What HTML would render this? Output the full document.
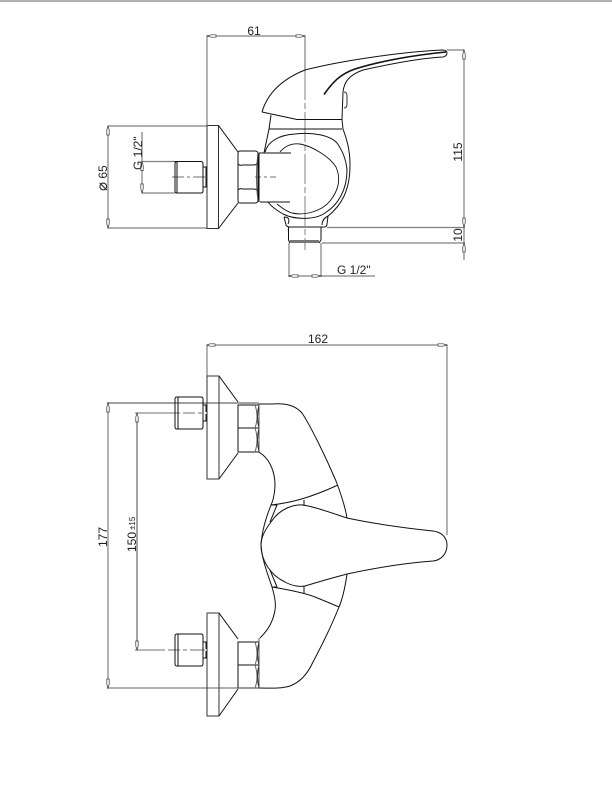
<!DOCTYPE html>
<html><head><meta charset="utf-8"><style>html,body{margin:0;padding:0;background:#fff}svg{display:block;filter:blur(.3px)}
text{font-family:"Liberation Sans","DejaVu Sans",sans-serif;font-size:12px;fill:#222}</style></head><body>
<svg width="612" height="800" viewBox="0 0 612 800" xmlns="http://www.w3.org/2000/svg">
<rect width="612" height="800" fill="#fff"/>
<line x1="0" y1="1" x2="612" y2="1" stroke="#808080" stroke-width="1.200"/>
<!-- gray dimension lines -->
<g fill="none" stroke="#808080" stroke-width="1.200">
<path d="M207 36V125M207 36H305M305 36V70"/>
<path d="M108 126H207M108 228H207M108 126V228"/>
<path d="M142 132V193M142 161.500H175M142 193H175"/>
<path d="M327 227.500H465M322 243H465M464 50V260M447 50H464"/>
<path d="M289 243V277M321 243V277M289 276H375"/>
<path d="M207 345V376M207 345H447M447 345V535"/>
<path d="M108 403V688M107 688H238"/>
</g>
<path d="M137 413V650" fill="none" stroke="#444" stroke-width="1"/>
<g fill="#fff" stroke="#333" stroke-width=".7">
<path d="M207 36l4-1.200h5v2.400h-5zM305 36l-4-1.200h-5v2.400h5zM447 345l-4-1.200h-5v2.400h5zM207 345l3-1.200h5v2.400h-5z"/>
<path d="M108 126l-1.200 4v5h2.400v-5zM108 228l-1.200-4v-5h2.400v5zM142 161.500l-1.200 4v5h2.400v-5zM142 193l-1.200-4v-5h2.400v5zM464 50l-1.200 4v5h2.400v-5zM464 227l-1.200-4v-5h2.400v5zM464 243l-1.200 4v5h2.400v-5z"/>
<path d="M289 276l4-1.200h5v2.400h-5zM321 276l-4-1.200h-5v2.400h5z"/>
<path d="M108 403l-1.200 4v5h2.400v-5zM108 688l-1.200-4v-5h2.400v5zM137 413l-1.200 4v5h2.400v-5zM137 650l-1.200-4v-5h2.400v5z"/>
</g>
<!-- center lines -->
<g fill="none" stroke="#444" stroke-width=".8">
<path d="M172 177H207" stroke-dasharray="12 3 3 3"/>
<path d="M255 177H277" stroke-dasharray="6 3 3 3"/>
<path d="M135 413H205" stroke-dasharray="45 3 12 3 4 3"/>
<path d="M135 650H205" stroke-dasharray="30 3 12 3 4 3"/>
<path d="M107 403H259" stroke-width=".9"/>
</g>
<path d="M305 70V250" fill="none" stroke="#808080" stroke-dasharray="30 3 6 3" stroke-width="1"/>
<!-- side view -->
<g fill="none" stroke="#111" stroke-width="1" stroke-linejoin="round">
<path d="M207 125.500H218.500V228.500H207Z" stroke="#333"/>
<path d="M218.500 125.500L238 152M218.500 228.500L238 203"/>
<path d="M240 151H255Q258 151 258 154V200Q258 203 255 203H240Q238 203 238 200V154Q238 151 240 151Z"/>
<path d="M238 164Q240 166 242 165H254Q256 165 258 163M238 190Q240 188 242 189H254Q256 189 258 191"/>
<path d="M258 152Q255 177 258 202" stroke="#555"/>
<path d="M175 161.500H201Q203 161.500 203 164V191Q203 193 201 193H177Q175 193 175 191V164Q175 161.500 177 161.500Z"/>
<path d="M177 162V193"/>
<path d="M203 167H207M203 187H207M206 167V187"/>
<path d="M259 153H291M260 202H290M259 153V202"/>
<!-- handle -->
<path d="M262 112C267 95 280 80 305 70C340 61 400 52 442 50Q447 50 447 53Q447 56 443 57C420 58 390 64 363 70C349 75 344 82 343 92L342 119.500"/>
<path d="M262 112L297 119.500H342"/>
<path d="M324 94.500C332 83 340 74 355 69C380 61 415 55 446 52" stroke-width="1.600"/>
<path d="M344 92Q347 92 347 96V104Q347 108 344 108" stroke="#333"/>
<!-- body -->
<path d="M271 115L269 129H342M342 119.500L343 129C347 140 350 150 350 165C350 190 342 205 327 217"/>
<path d="M269 129L264 153"/>
<path d="M265 152C268 142 278 135 295 134C312 132 330 135 337 143C342 150 346 158 347 170C347 190 338 205 325 213C315 220 295 220 283 214C276 210 271 206 268 202"/>
<path d="M280 152C285 146 292 143 300 144C312 146 330 157 336 167C341 178 339 190 330 201C322 211 305 216 292 213C285 211 281 207 277 204" stroke-width=".9"/>
<path d="M284 217L286 225Q287 227 290 227H324Q327 227 327 224L328 216"/>
<path d="M288 224Q291 217 284 217M322 225Q322 219 328 216"/>
<path d="M288.500 227V240L290 243M321 227V240L319 243"/>
<path d="M290 241.500H319" stroke="#777" stroke-width="3"/>
<!-- front view, upper fitting -->
<path d="M207 376H219V479H207Z" stroke="#333"/>
<path d="M219 376L238 402M219 479L238 453"/>
<path d="M238 405H259Q256 417 259 428Q256 440 259 452H238Z"/>
<path d="M238 428H259" />
<path d="M255 405Q259 417 255 428Q259 440 255 452" stroke="#666"/>
<path d="M259 404V452" stroke="#555"/>
<path d="M177 397H201Q203 397 203 399V427Q203 429 201 429H177Q175 429 175 427V399Q175 397 177 397Z"/>
<path d="M178 397V429"/>
<path d="M203 405H207M203 421H207M206 405V412M206 414V421"/>
<!-- front view, lower fitting -->
<path d="M207 613H219V716H207Z" stroke="#333"/>
<path d="M219 613L238 639M219 716L238 689"/>
<path d="M238 642H259Q256 654 259 665Q256 677 259 688H238Z"/>
<path d="M238 665H259"/>
<path d="M255 642Q259 654 255 665Q259 677 255 688" stroke="#666"/>
<path d="M259 638V688" stroke="#555"/>
<path d="M177 634H201Q203 634 203 636V664Q203 666 201 666H177Q175 666 175 664V636Q175 634 177 634Z"/>
<path d="M178 634V666"/>
<path d="M203 642H207M203 658H207M206 642V649M206 651V658"/>
<path d="M238 688H259" stroke="#777" stroke-width="1.500"/>
<!-- front body -->
<path d="M259 404H272C285 403 295 405 302 413C310 425 325 455 336 481C341 494 345 506 347 518"/>
<path d="M259 452L263 455C270 461 275 472 275 485C275 495 272 503 271 505C266 518 262 530 261 545C262 560 268 575 272 587C275 597 276 605 275 610C273 622 268 630 260 638"/>
<path d="M271 505L277 505L270 522M271 505C290 503 310 498 338 485M304 500V506"/>
<path d="M303 505C295 504 280 508 271 522C264 531 261 539 261 545C261 560 270 575 285 582C292 586 300 587 305 586C318 582 332 578 347 574C375 568 405 563 433 561C442 560 447 553 447 545C447 537 441 532 433 531C405 528 375 524 347 518C332 513 318 508 308 506Z"/>
<path d="M272 587H277L270 570M272 587C290 590 305 593 315 597C325 601 332 604 339 607M304 586V593"/>
<path d="M347 574C345 588 342 600 339 607C333 622 322 645 313 662C307 675 300 682 290 686C280 689 270 688 259 688"/>
</g>
<!-- labels -->
<text x="254" y="35" text-anchor="middle">61</text>
<text x="318" y="343" text-anchor="middle">162</text>
<text x="337" y="274">G 1/2"</text>
<text transform="translate(462 152) rotate(-90)" text-anchor="middle">115</text>
<text transform="translate(462 235) rotate(-90)" text-anchor="middle">10</text>
<text transform="translate(142 170) rotate(-90)">G 1/2"</text>
<text transform="translate(107 191) rotate(-90)"><tspan style="font-size:15px">⌀</tspan> 65</text>
<text transform="translate(107 547) rotate(-90)">177</text>
<text transform="translate(136 552) rotate(-90)">150</text>
<text transform="translate(135 530) rotate(-90)" style="font-size:8px">±15</text>
</svg>
</body></html>
